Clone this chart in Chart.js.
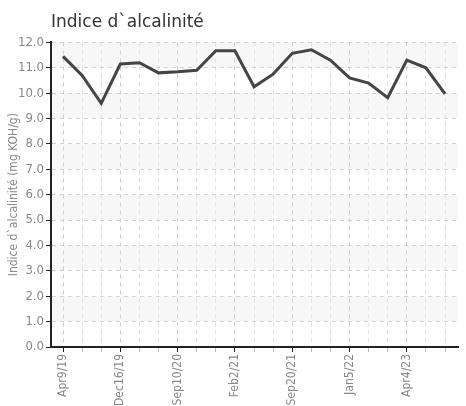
<!DOCTYPE html>
<html>
<head>
<meta charset="utf-8">
<script src="https://cdn.jsdelivr.net/npm/chart.js@4"></script>
<style>
  html, body { margin: 0; padding: 0; background: #fff; overflow: hidden; }
  #wrap { width: 466px; height: 406px; position: relative; }
</style>
</head>
<body>
<div id="wrap"><canvas id="myChart" width="466" height="406"></canvas></div>
<script>
// dates on the x axis, only every third one is labelled in the picture
const dates = [
  "Apr9/19", "", "", "Dec16/19", "", "", "Sep10/20", "", "", "Feb2/21", "", "",
  "Sep20/21", "", "", "Jan5/22", "", "", "Apr4/23", "", ""
];
const alcalinite = [
  11.45, 10.7, 9.6, 11.15, 11.2, 10.8, 10.84, 10.9, 11.67, 11.67, 10.25,
  10.75, 11.57, 11.71, 11.3, 10.6, 10.4, 9.82, 11.3, 11.0, 9.97
];
const yTicks = [0, 1, 2, 3, 4, 5, 6, 7, 8, 9, 10, 11, 12];

const narrow = "'Liberation Sans Narrow', 'DejaVu Sans Condensed', 'Roboto Condensed', Roboto, sans-serif";

// light grey bands between every other gridline
const bandes = {
  id: "bandes",
  beforeDraw(chart) {
    const { ctx, chartArea } = chart;
    const y = chart.scales.y;
    ctx.save();
    ctx.fillStyle = "#f7f7f7";
    for (let v = 1; v < 12; v += 2) {
      const top = y.getPixelForValue(v + 1);
      const bottom = y.getPixelForValue(v);
      ctx.fillRect(chartArea.left, top, chartArea.right - chartArea.left, bottom - top);
    }
    ctx.restore();
  }
};

const points = alcalinite.map((v, i) => ({ x: i, y: v }));

const config = {
  type: "line",
  data: {
    datasets: [{
      label: "Indice d`alcalinité",
      data: points,
      borderColor: "#454545",
      borderWidth: 3,
      pointRadius: 0,
      tension: 0,
      fill: false
    }]
  },
  options: {
    responsive: false,
    animation: false,
    layout: { padding: { top: 12, right: 8, left: 0, bottom: 0 } },
    plugins: {
      legend: { display: false },
      tooltip: { enabled: false },
      title: {
        display: true,
        text: "Indice d`alcalinité",
        align: "start",
        fullSize: false,
        color: "#333",
        font: { family: "'DejaVu Sans', sans-serif", size: 17, weight: "normal" },
        padding: { top: 0, bottom: 10 }
      }
    },
    scales: {
      x: {
        type: "linear",
        min: -0.63,
        max: 20.68,
        afterFit: (s) => { s.height = 59; },
        afterBuildTicks: (s) => { s.ticks = dates.map((d, i) => ({ value: i })); },
        border: { display: true, color: "#222", width: 2, dash: [4, 4] },
        grid: {
          color: (c) => (c.index % 3 === 0 ? "#cfcfcf" : "#e2e2e2"),
          tickColor: (c) => (c.index % 3 === 0 ? "#222" : "#bbb"),
          tickLength: 5,
          lineWidth: 1
        },
        ticks: {
          autoSkip: false,
          maxRotation: 90,
          minRotation: 90,
          color: "#888",
          font: { family: narrow, size: 12 },
          padding: 2,
          callback: (v) => dates[v]
        }
      },
      y: {
        min: 0,
        max: 12,
        afterFit: (s) => { s.width = 51; },
        afterBuildTicks: (s) => { s.ticks = yTicks.map(v => ({ value: v })); },
        border: { display: true, color: "#222", width: 2, dash: [4, 4] },
        grid: {
          color: "#d2d2d2",
          tickColor: "#222",
          tickLength: 5,
          lineWidth: 1
        },
        ticks: {
          color: "#888",
          font: { family: narrow, size: 13 },
          padding: 2,
          callback: (v) => v.toFixed(1)
        },
        title: {
          display: true,
          text: "Indice d`alcalinité (mg KOH/g)",
          color: "#888",
          font: { family: narrow, size: 12 },
          padding: { top: 7, bottom: 0 }
        }
      }
    }
  },
  plugins: [bandes]
};

const myChart = document.getElementById("myChart");
myChart.chart = new Chart(myChart, config);
</script>
</body>
</html>
